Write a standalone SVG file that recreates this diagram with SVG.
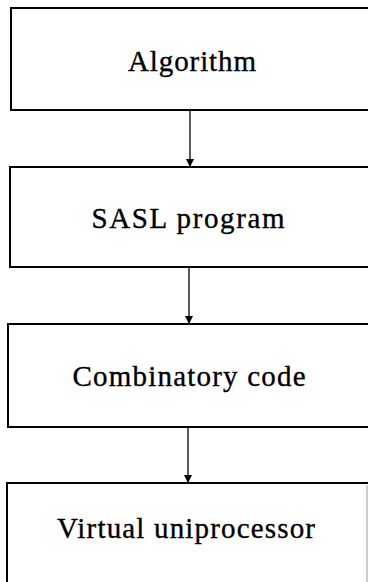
<svg xmlns="http://www.w3.org/2000/svg" width="368" height="582" viewBox="0 0 368 582">
  <style>
    .box { fill: #fff; stroke: #000; stroke-width: 2; }
    .lbl { font-family: "Liberation Serif", "DejaVu Serif", serif; font-size: 29px; fill: #000; stroke: #000; stroke-width: 0.35; text-anchor: middle; }
    .edge { stroke: #000; stroke-width: 1.3; fill: none; }
  </style>
  <defs>
    <marker id="arr" viewBox="0 0 8 10" refX="8" refY="5" markerWidth="8" markerHeight="10" markerUnits="userSpaceOnUse" orient="auto">
      <path d="M0,1 L8,5 L0,9 Z" fill="#000"/>
    </marker>
  </defs>

  <rect width="368" height="582" fill="#fff"/>

  <g id="n-algorithm">
    <rect class="box" x="11" y="8" width="370" height="102"/>
    <text class="lbl" x="192" y="71" textLength="128" lengthAdjust="spacing">Algorithm</text>
  </g>

  <g id="n-sasl">
    <rect class="box" x="10" y="167" width="371" height="100"/>
    <text class="lbl" x="188" y="228" textLength="193" lengthAdjust="spacing">SASL program</text>
  </g>

  <g id="n-combinatory">
    <rect class="box" x="8" y="324" width="373" height="103"/>
    <text class="lbl" x="189" y="386" textLength="233" lengthAdjust="spacing">Combinatory code</text>
  </g>

  <g id="n-uniprocessor">
    <rect class="box" x="7" y="483" width="374" height="110"/>
    <line x1="367" y1="485" x2="367" y2="582" stroke="#999" stroke-width="1"/>
    <text class="lbl" x="186" y="538" textLength="258" lengthAdjust="spacing">Virtual uniprocessor</text>
  </g>

  <g id="connectors">
    <line class="edge" x1="190" y1="111" x2="190" y2="167" marker-end="url(#arr)"/>
    <line class="edge" x1="189" y1="268" x2="189" y2="324" marker-end="url(#arr)"/>
    <line class="edge" x1="188" y1="428" x2="188" y2="483" marker-end="url(#arr)"/>
  </g>
</svg>
